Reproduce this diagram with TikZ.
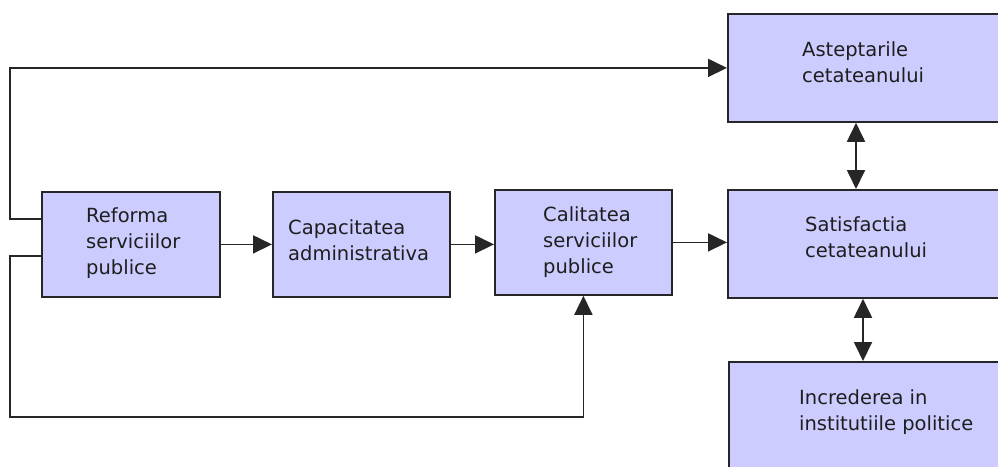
\documentclass[tikz,border=0pt]{standalone}
\usepackage{fontspec}
\setmainfont{DejaVu Sans}
\usetikzlibrary{arrows.meta}
\definecolor{boxfill}{RGB}{204,204,255}
\definecolor{txt}{RGB}{30,30,30}
\tikzset{
  box/.style={draw=black!85, line width=1.8pt, fill=boxfill, inner sep=0pt, anchor=north west},
  lbl/.style={anchor=base west, align=left, inner sep=0pt, text=txt,
    font=\fontsize{19.5pt}{26pt}\selectfont},
  conn/.style={draw=black!85, line width=1.8pt},
  arr/.style={conn, -{Triangle[length=19pt,width=18pt]}},
  darr/.style={conn, {Triangle[length=19pt,width=18pt]}-{Triangle[length=19pt,width=18pt]}}
}
\begin{document}
\begin{tikzpicture}[x=1pt,y=-1pt]
\useasboundingbox (0,0) rectangle (998,466);
\clip (0,0) rectangle (998,466);
\fill[white] (0,0) rectangle (998,466);
% boxes
\node[box, minimum width=178pt, minimum height=105pt] (ref) at (41,191) {};
\node[box, minimum width=177pt, minimum height=105pt] (cap) at (272,191) {};
\node[box, minimum width=177pt, minimum height=105pt] (cal) at (494,189) {};
\node[box, minimum width=300pt, minimum height=108pt] (ast) at (727,13) {};
\node[box, minimum width=300pt, minimum height=108pt] (sat) at (727,189) {};
\node[box, minimum width=300pt, minimum height=130pt] (inc) at (728,361) {};
% labels (base anchor = baseline of the last line)
\node[lbl] (reft) at (86,274) {Reforma\\serviciilor\\publice};
\node[lbl] (capt) at (288,260) {Capacitatea\\administrativa};
\node[lbl] (calt) at (543,273) {Calitatea\\serviciilor\\publice};
\node[lbl] (astt) at (802,82) {Asteptarile\\cetateanului};
\node[lbl] (satt) at (805,257) {Satisfactia\\cetateanului};
\node[lbl] (inct) at (799,430) {Increderea in\\institutiile politice};
% helper coordinates
\coordinate (loopx) at (10,0);
\coordinate (ytop) at (0,219);
\coordinate (ybot) at (0,256);
\coordinate (ylow) at (0,417);
\coordinate (xa) at (856,0);
\coordinate (xb) at (863,0);
% connectors
\draw[arr] (ref.west |- ytop) -- (loopx |- ytop) |- (ast.west);
\draw[arr] (ref.west |- ybot) -- (loopx |- ybot) |- (cal.south |- ylow) -- (cal.south);
\draw[arr] (ref.east) -- (cap.west);
\draw[arr] (cap.east) -- (cal.west |- cap.east);
\draw[arr] (cal.east) -- (sat.west |- cal.east);
\draw[darr] (ast.south -| xa) -- (sat.north -| xa);
\draw[darr] (sat.south -| xb) -- (inc.north -| xb);
\end{tikzpicture}
\end{document}
